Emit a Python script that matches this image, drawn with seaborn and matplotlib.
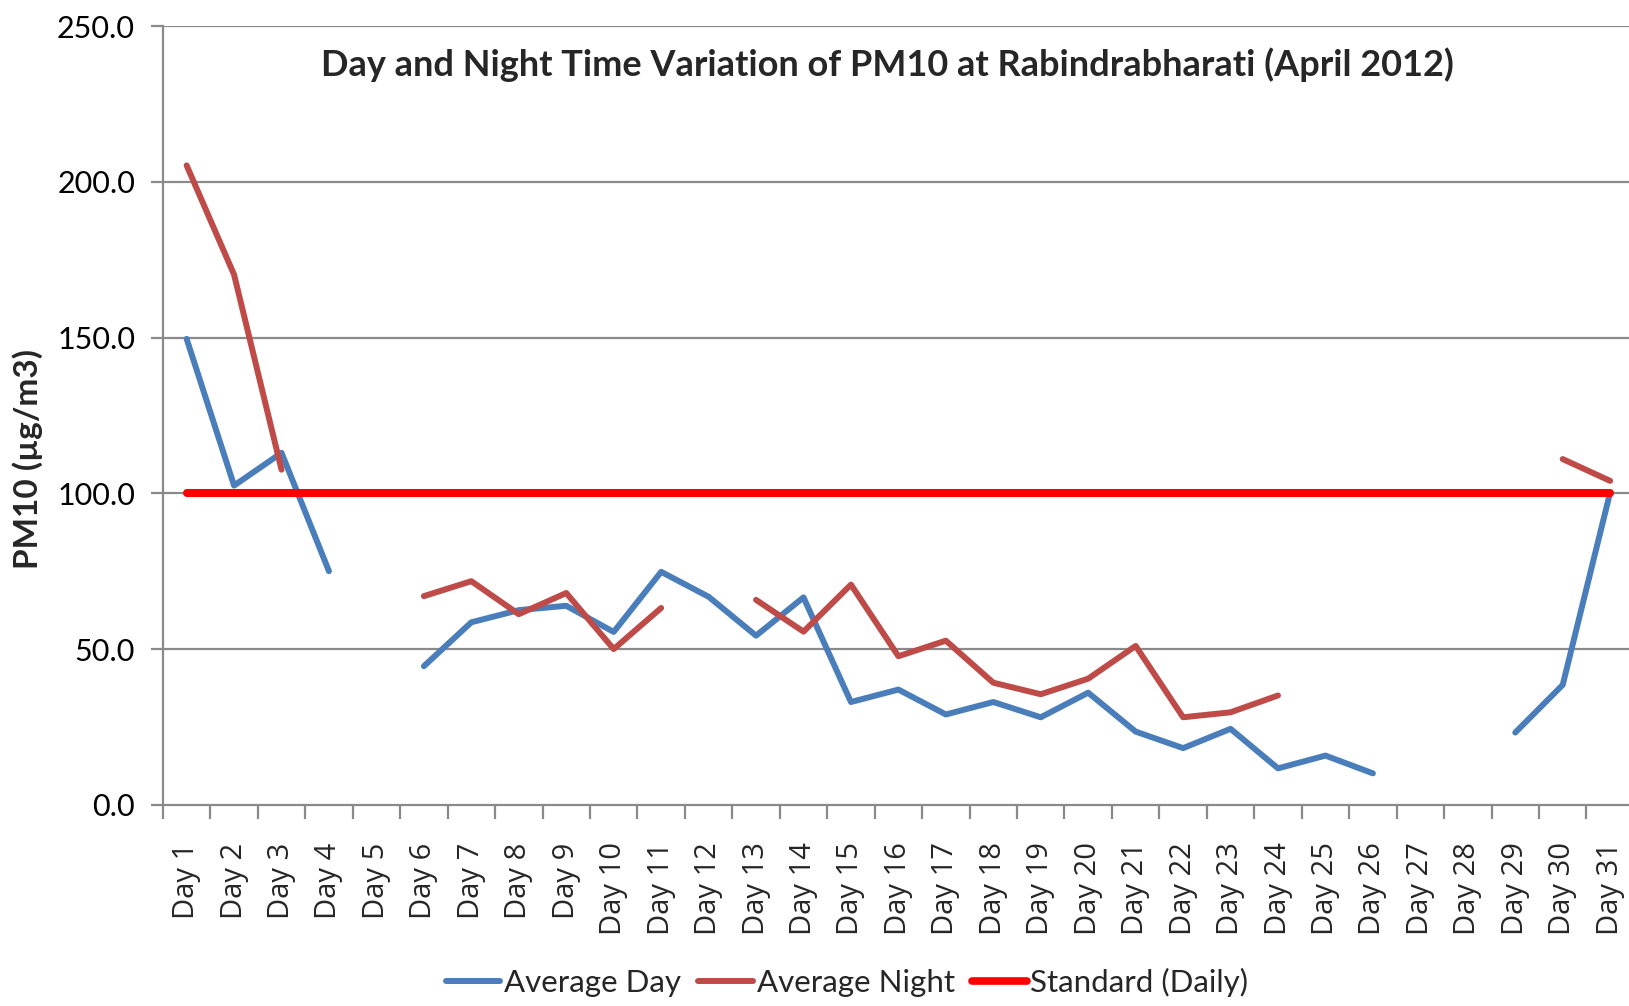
import numpy as np
import pandas as pd
import matplotlib
matplotlib.use("Agg")
import matplotlib.pyplot as plt
from matplotlib.ticker import FixedLocator, FormatStrFormatter
import seaborn as sns


# =========================
# data
# =========================
days = [f"Day {i}" for i in range(1, 32)]

avg_day = [149.6, 102.5, 113.0, 75.0, np.nan, 44.5, 58.6, 62.5, 63.9, 55.5,
           74.8, 66.8, 54.3, 66.6, 33.0, 37.0, 29.0, 33.0, 28.1, 36.0,
           23.5, 18.2, 24.4, 11.7, 15.8, 10.1, np.nan, np.nan, 23.2, 38.5, 100.3]

avg_night = [205.3, 170.2, 107.6, np.nan, np.nan, 67.0, 71.8, 61.2, 68.0, 50.0,
             63.2, np.nan, 65.8, 55.6, 70.7, 47.7, 52.7, 39.2, 35.5, 40.5,
             51.0, 28.1, 29.7, 35.1, np.nan, np.nan, np.nan, np.nan, np.nan, 111.0, 104.0]

standard = [100.0] * 31

series_names = ["Average Day", "Average Night", "Standard (Daily)"]
colors = {"Average Day": "#4A7EBB", "Average Night": "#BE4B48", "Standard (Daily)": "#FF0000"}
widths = {"Average Day": 4.3, "Average Night": 4.3, "Standard (Daily)": 5.8}


# split each series into runs so gaps stay gaps
def to_long(name, values):
    rows = []
    seg = 0
    prev_nan = True
    for i, v in enumerate(values):
        if np.isnan(v):
            prev_nan = True
            continue
        if prev_nan:
            seg += 1
        prev_nan = False
        rows.append({"x": i, "value": v, "series": name, "seg": f"{name}_{seg}"})
    return rows


rows = []
for name, vals in zip(series_names, [avg_day, avg_night, standard]):
    rows += to_long(name, vals)
df = pd.DataFrame(rows)


# =========================
# plot
# =========================
sns.set_theme(style="white")
plt.rcParams["font.family"] = ["Lato", "DejaVu Sans"]

fig = plt.figure(figsize=(16.29, 10.06), dpi=100)
ax = fig.add_axes([0.100, 0.200, 0.903, 0.774])

grid_col = "#8A8A8A"
for yv in [50, 100, 150, 200, 250]:
    ax.axhline(yv, color=grid_col, lw=1.6, zorder=0)

for name in series_names:
    sub = df[df["series"] == name]
    sns.lineplot(data=sub, x="x", y="value", units="seg", estimator=None,
                 color=colors[name], lw=widths[name], ax=ax,
                 solid_capstyle="round", label=None, legend=False)

ax.set_xlim(-0.5, 30.5)
ax.set_ylim(0, 250)

# y axis
ax.yaxis.set_major_locator(FixedLocator([0, 50, 100, 150, 200, 250]))
ax.yaxis.set_major_formatter(FormatStrFormatter("%.1f"))
ax.tick_params(axis="y", which="major", left=True, length=9, width=1.6,
               color=grid_col, labelsize=22, pad=11, labelcolor="black")
ax.set_ylabel("")
fig.text(0.0172, 0.544, "PM10 (µg/m3)", rotation=90, ha="center", va="center",
         fontsize=24, fontweight="bold")

# x axis: labels at categories, tick marks between them
ax.set_xticks(range(31))
ax.set_xticklabels(days, rotation=90, family=["Open Sans", "DejaVu Sans"], fontsize=21)
ax.xaxis.set_minor_locator(FixedLocator(np.arange(-0.5, 31, 1.0)))
ax.tick_params(axis="x", which="major", length=0, pad=27)
ax.tick_params(axis="x", which="minor", bottom=True, length=10, width=1.6, color=grid_col)
ax.set_xlabel("")

for side in ["top", "right"]:
    ax.spines[side].set_visible(False)
for side in ["left", "bottom"]:
    ax.spines[side].set_color(grid_col)
    ax.spines[side].set_linewidth(1.6)

fig.text(0.545, 0.936, "Day and Night Time Variation of PM10 at Rabindrabharati (April 2012)",
         ha="center", va="center", fontsize=26, fontweight="bold")

handles = [plt.Line2D([], [], color=colors[n], lw=widths[n] if n != "Standard (Daily)" else 5.5,
                      solid_capstyle="round") for n in series_names]
fig.legend(handles, series_names, loc="center", bbox_to_anchor=(0.52, 0.023), ncol=3,
           frameon=False, fontsize=22.5, handlelength=1.75, handletextpad=0.12,
           columnspacing=0.55)

fig.savefig("out.png", dpi=100)
